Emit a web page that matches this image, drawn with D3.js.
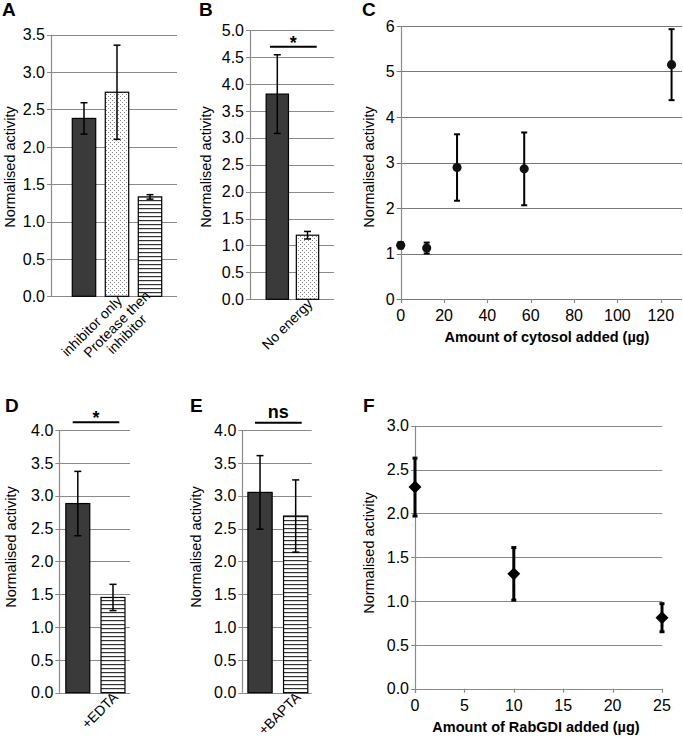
<!DOCTYPE html>
<html>
<head>
<meta charset="utf-8">
<script src="https://cdn.jsdelivr.net/npm/d3@7"></script>
<style>
	body { margin: 0; background: #fff; }
	svg { font-family: "Liberation Sans", Arial, sans-serif; }
	.tick-label { font-size: 16px; fill: #000; }
	.axis-title { font-size: 14.5px; fill: #000; }
	.axis-title.bold { font-weight: bold; }
	.panel-letter { font-size: 19px; font-weight: bold; fill: #000; }
	.cat-label { font-size: 14px; fill: #000; }
	.sig { font-size: 18px; font-weight: bold; fill: #000; }
</style>
</head>
<body>
<svg id="chart" width="683" height="740"></svg>
<script>
// panel A
var aLabels = [[""], ["inhibitor only"], ["Protease then", "inhibitor"]];
var aValues = [2.38, 2.73, 1.33];
var aErrors = [0.21, 0.63, 0.03];
var aFills = ["dark", "dots", "stripes"];
var aTicks = [0, 0.5, 1, 1.5, 2, 2.5, 3, 3.5];

// panel B
var bLabels = [[""], ["No energy"]];
var bValues = [3.81, 1.19];
var bErrors = [0.73, 0.07];
var bFills = ["dark", "dots"];
var bTicks = [0, 0.5, 1, 1.5, 2, 2.5, 3, 3.5, 4, 4.5, 5];

// panel C
var cAmounts = [0, 12, 26, 57, 125];
var cValues = [1.18, 1.12, 2.89, 2.86, 5.15];
var cErrors = [0.07, 0.12, 0.73, 0.80, 0.78];
var cYTicks = [0, 1, 2, 3, 4, 5, 6];
var cXTicks = [0, 20, 40, 60, 80, 100, 120];

// panel D
var dLabels = [[""], ["+EDTA"]];
var dValues = [2.88, 1.45];
var dErrors = [0.49, 0.20];
var dFills = ["dark", "stripes"];

// panel E
var eLabels = [[""], ["+BAPTA"]];
var eValues = [3.05, 2.69];
var eErrors = [0.56, 0.55];
var eFills = ["dark", "stripes"];
var deTicks = [0, 0.5, 1, 1.5, 2, 2.5, 3, 3.5, 4];

// panel F
var fAmounts = [0, 10, 25];
var fValues = [2.30, 1.31, 0.81];
var fErrors = [0.33, 0.30, 0.16];
var fYTicks = [0, 0.5, 1, 1.5, 2, 2.5, 3];
var fXTicks = [0, 5, 10, 15, 20, 25];

var svg = d3.select("#chart");
var gridColor = "#8a8a8a";

// fill patterns for the bars
var defs = svg.append("defs");
var dots = defs.append("pattern").attr("id", "dots")
	.attr("patternUnits", "userSpaceOnUse").attr("width", 4).attr("height", 4);
dots.append("rect").attr("width", 4).attr("height", 4).attr("fill", "#fff");
dots.append("rect").attr("x", 0).attr("y", 0).attr("width", 1).attr("height", 1).attr("fill", "#888");
dots.append("rect").attr("x", 2).attr("y", 2).attr("width", 1).attr("height", 1).attr("fill", "#888");
var stripes = defs.append("pattern").attr("id", "stripes")
	.attr("patternUnits", "userSpaceOnUse").attr("width", 4).attr("height", 4);
stripes.append("rect").attr("width", 4).attr("height", 4).attr("fill", "#fff");
stripes.append("rect").attr("x", 0).attr("y", 0).attr("width", 4).attr("height", 1.2).attr("fill", "#333");

var fillFor = function(kind) {
	if (kind == "dots") return "url(#dots)";
	if (kind == "stripes") return "url(#stripes)";
	return "#3a3a3a";
};

var letter = function(text, x, y) {
	svg.append("text").attr("class", "panel-letter").attr("x", x).attr("y", y).text(text);
};

var yTitle = function(x, y) {
	svg.append("text").attr("class", "axis-title")
		.attr("transform", "translate(" + x + "," + y + ") rotate(-90)")
		.attr("text-anchor", "middle")
		.text("Normalised activity");
};

// horizontal grid + vertical axis with outward ticks
var drawYAxis = function(y, ticks, left, right, fmt, color) {
	var g = svg.append("g");
	g.selectAll("line.grid").data(ticks).enter().append("line")
		.attr("x1", left - 4).attr("x2", right)
		.attr("y1", function(d) { return Math.round(y(d)) + 0.5; })
		.attr("y2", function(d) { return Math.round(y(d)) + 0.5; })
		.attr("stroke", color || gridColor).attr("stroke-width", 1.2);
	g.append("line")
		.attr("x1", Math.round(left) + 0.5).attr("x2", Math.round(left) + 0.5)
		.attr("y1", y(ticks[ticks.length - 1])).attr("y2", y(0) + (fmt.xTicks ? 4 : 0))
		.attr("stroke", gridColor).attr("stroke-width", 1.2);
	g.selectAll("text").data(ticks).enter().append("text")
		.attr("class", "tick-label")
		.attr("x", left - 6).attr("y", function(d) { return y(d); })
		.attr("dy", "0.36em").attr("text-anchor", "end")
		.text(fmt.format);
};

var drawXAxis = function(x, y0, ticks) {
	var g = svg.append("g");
	g.selectAll("line").data(ticks).enter().append("line")
		.attr("x1", function(d) { return Math.round(x(d)) + 0.5; })
		.attr("x2", function(d) { return Math.round(x(d)) + 0.5; })
		.attr("y1", y0).attr("y2", y0 + 4)
		.attr("stroke", gridColor).attr("stroke-width", 1.2);
	g.selectAll("text").data(ticks).enter().append("text")
		.attr("class", "tick-label")
		.attr("x", function(d) { return x(d); }).attr("y", y0 + 22)
		.attr("text-anchor", "middle")
		.text(function(d) { return d; });
};

var errorBars = function(data, xf, y, cap, width) {
	var g = svg.append("g").attr("stroke", "#000").attr("stroke-width", width);
	data.forEach(function(d) {
		var cx = xf(d), hi = y(d.v + d.e), lo = y(d.v - d.e);
		g.append("line").attr("x1", cx).attr("x2", cx).attr("y1", hi).attr("y2", lo);
		g.append("line").attr("x1", cx - cap).attr("x2", cx + cap).attr("y1", hi).attr("y2", hi);
		g.append("line").attr("x1", cx - cap).attr("x2", cx + cap).attr("y1", lo).attr("y2", lo);
	});
};

var barPanel = function(cfg) {
	var y = d3.scaleLinear().domain([0, cfg.max]).range([cfg.bottom, cfg.top]);
	var keys = cfg.values.map(function(v, i) { return "c" + i; });
	var x = d3.scaleBand().domain(keys).range(cfg.band).paddingInner(cfg.pad).paddingOuter(cfg.pad / 2);
	drawYAxis(y, cfg.ticks, cfg.left, cfg.right, { format: d3.format(".1f") });

	var data = cfg.values.map(function(v, i) {
		return { k: keys[i], v: v, e: cfg.errors[i], fill: cfg.fills[i], label: cfg.labels[i] };
	});
	svg.append("g").selectAll("rect").data(data).enter().append("rect")
		.attr("x", function(d) { return x(d.k) + 0.5; })
		.attr("y", function(d) { return y(d.v); })
		.attr("width", x.bandwidth())
		.attr("height", function(d) { return y(0) - y(d.v); })
		.attr("fill", function(d) { return fillFor(d.fill); })
		.attr("stroke", "#000").attr("stroke-width", 1.2);
	errorBars(data, function(d) { return x(d.k) + x.bandwidth() / 2 + 0.5; }, y, 3.5, 1.5);

	// rotated category labels, ends at the category centre
	data.forEach(function(d) {
		if (!d.label[0]) return;
		var cx = x(d.k) + x.bandwidth() / 2 + 3;
		var t = svg.append("text").attr("class", "cat-label")
			.attr("transform", "translate(" + cx + "," + (cfg.bottom + 2) + ") rotate(-45)")
			.attr("text-anchor", "end");
		var n = d.label.length;
		var spans = d.label.map(function(line, i) {
			return t.append("tspan").attr("x", 0)
				.attr("dy", i == 0 ? (0.35 - (n - 1) * 0.5) + "em" : "1.0em")
				.text(line);
		});
		// centre the shorter lines under the first one
		if (n > 1) {
			var w0 = spans[0].node().getComputedTextLength();
			spans.forEach(function(s, i) {
				if (i > 0) s.attr("x", -(w0 - s.node().getComputedTextLength()) / 2);
			});
		}
	});

	if (cfg.sig) {
		svg.append("line").attr("x1", cfg.sig.x1).attr("x2", cfg.sig.x2)
			.attr("y1", cfg.sig.y).attr("y2", cfg.sig.y)
			.attr("stroke", "#000").attr("stroke-width", 2);
		svg.append("text").attr("class", "sig").attr("text-anchor", "middle")
			.attr("x", (cfg.sig.x1 + cfg.sig.x2) / 2).attr("y", cfg.sig.y + cfg.sig.dy)
			.text(cfg.sig.text);
	}
};

// bar panels
barPanel({ left: 51, right: 177, top: 34.7, bottom: 296.3, max: 3.5, ticks: aTicks,
	band: [67, 166], pad: 0.29, values: aValues, errors: aErrors, fills: aFills, labels: aLabels });
barPanel({ left: 250, right: 334, top: 30, bottom: 299.3, max: 5, ticks: bTicks,
	band: [261.7, 322.1], pad: 0.26, values: bValues, errors: bErrors, fills: bFills, labels: bLabels,
	sig: { x1: 270, x2: 316.7, y: 46.7, text: "*", dy: 2 } });
barPanel({ left: 59.3, right: 130, top: 430, bottom: 692.7, max: 4, ticks: deTicks,
	band: [59.7, 130.1], pad: 0.32, values: dValues, errors: dErrors, fills: dFills, labels: dLabels,
	sig: { x1: 72.7, x2: 119.3, y: 422.3, text: "*", dy: 2 } });
barPanel({ left: 242.3, right: 311.7, top: 430, bottom: 692.7, max: 4, ticks: deTicks,
	band: [241.7, 313], pad: 0.32, values: eValues, errors: eErrors, fills: eFills, labels: eLabels,
	sig: { x1: 255, x2: 301.7, y: 422.7, text: "ns", dy: -5 } });

// panel C: scatter with error bars
(function() {
	var x = d3.scaleLinear().domain([0, 130]).range([400.7, 682.4]);
	var y = d3.scaleLinear().domain([0, 6]).range([299, 26]);
	drawYAxis(y, cYTicks, 400.7, 682, { format: d3.format("d"), xTicks: true }, "#777");
	drawXAxis(x, 299, cXTicks);
	var data = cAmounts.map(function(a, i) { return { a: a, v: cValues[i], e: cErrors[i] }; });
	errorBars(data, function(d) { return x(d.a); }, y, 3, 2);
	svg.append("g").selectAll("path").data(data).enter().append("path")
		.attr("transform", function(d) { return "translate(" + x(d.a) + "," + y(d.v) + ")"; })
		.attr("d", d3.symbol().type(d3.symbolCircle).size(66))
		.attr("fill", "#111");
	svg.append("text").attr("class", "axis-title bold").attr("text-anchor", "middle")
		.attr("x", 547).attr("y", 342).text("Amount of cytosol added (µg)");
})();

// panel F: diamonds with thick error bars
(function() {
	var x = d3.scaleLinear().domain([0, 25]).range([415, 662]);
	var y = d3.scaleLinear().domain([0, 3]).range([688.7, 425.7]);
	drawYAxis(y, fYTicks, 415, 662.3, { format: d3.format(".1f"), xTicks: true });
	drawXAxis(x, 688.7, fXTicks);
	var data = fAmounts.map(function(a, i) { return { a: a, v: fValues[i], e: fErrors[i] }; });
	errorBars(data, function(d) { return x(d.a); }, y, 2.5, 3);
	svg.append("g").selectAll("path").data(data).enter().append("path")
		.attr("transform", function(d) { return "translate(" + x(d.a) + "," + y(d.v) + ") rotate(45)"; })
		.attr("d", d3.symbol().type(d3.symbolSquare).size(84))
		.attr("fill", "#000");
	svg.append("text").attr("class", "axis-title bold").attr("text-anchor", "middle")
		.attr("x", 536).attr("y", 732).text("Amount of RabGDI added (µg)");
})();

// titles and panel letters
yTitle(15, 167);
yTitle(211, 167);
yTitle(374, 167);
yTitle(16, 547);
yTitle(201, 547);
yTitle(374, 553);
letter("A", 2, 16);
letter("B", 199, 16);
letter("C", 362, 16);
letter("D", 5, 412);
letter("E", 190, 412);
letter("F", 363, 412);
</script>
</body>
</html>
